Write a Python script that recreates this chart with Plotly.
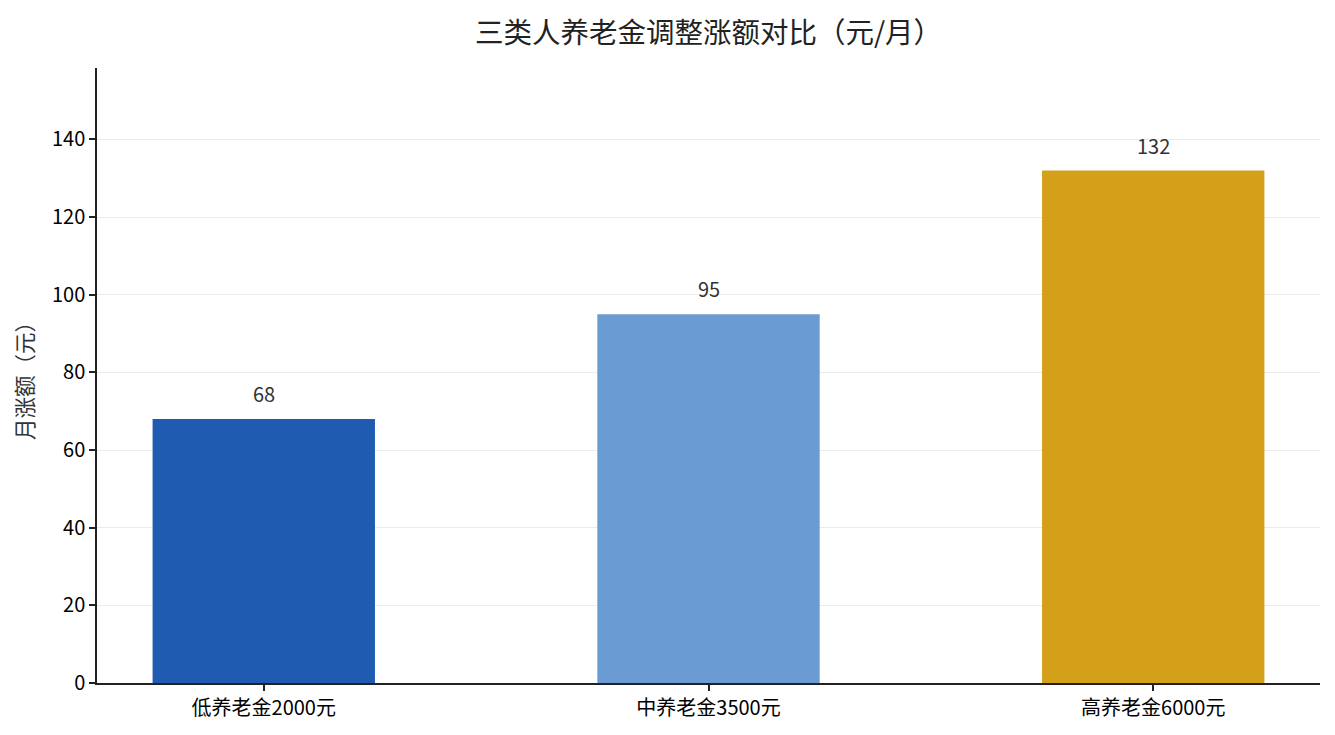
import plotly.graph_objects as go

# ── Data ────────────────────────────────────────────────────────────────────
categories = ["低养老金2000元", "中养老金3500元", "高养老金6000元"]
increase = [68, 95, 132]
bar_colors = ["#1f5bb0", "#6b9bd3", "#d4a01a"]

FONT = "Noto Sans CJK SC"

fig = go.Figure()
fig.add_trace(go.Bar(
    x=categories, y=increase,
    marker=dict(color=bar_colors, line=dict(width=0)),
    width=0.5,
    hoverinfo="x+y",
))

# value labels above bars
for c, v in zip(categories, increase):
    fig.add_annotation(x=c, y=v, text=str(v), showarrow=False,
                       yanchor="bottom", yshift=9,
                       font=dict(family=FONT, size=20, color="#333333"))

fig.update_layout(
    width=1335, height=735,
    margin=dict(l=89, r=23, t=60, b=60),
    paper_bgcolor="white", plot_bgcolor="white",
    font=dict(family=FONT, size=20, color="black"),
    title=dict(text="三类人养老金调整涨额对比（元/月）",
               x=0.5, xref="paper", xanchor="center",
               y=0.966, yanchor="middle", yref="container",
               font=dict(family=FONT, size=28.5, color="#222222")),
    showlegend=False,
    bargap=0.5,
)

fig.update_xaxes(
    range=[-0.375, 2.375], automargin=False,
    showline=True, linecolor="#222222", linewidth=1.5,
    ticks="outside", ticklen=6, tickwidth=1.5, tickcolor="#222222",
    showgrid=False, zeroline=False,
    tickfont=dict(family=FONT, size=20, color="black"),
)
fig.update_yaxes(
    range=[0, 158.4], automargin=False,
    tickvals=[0, 20, 40, 60, 80, 100, 120, 140],
    showline=True, linecolor="#222222", linewidth=1.5,
    ticks="outside", ticklen=6, tickwidth=1.5, tickcolor="#222222",
    showgrid=True, gridcolor="rgba(210,210,210,0.45)", gridwidth=1,
    zeroline=False, layer="above traces",
    tickfont=dict(family=FONT, size=20, color="black"),
    title=dict(text="月涨额（元）", standoff=16,
               font=dict(family=FONT, size=21.5, color="#333333")),
)

fig.write_html("out.html")
